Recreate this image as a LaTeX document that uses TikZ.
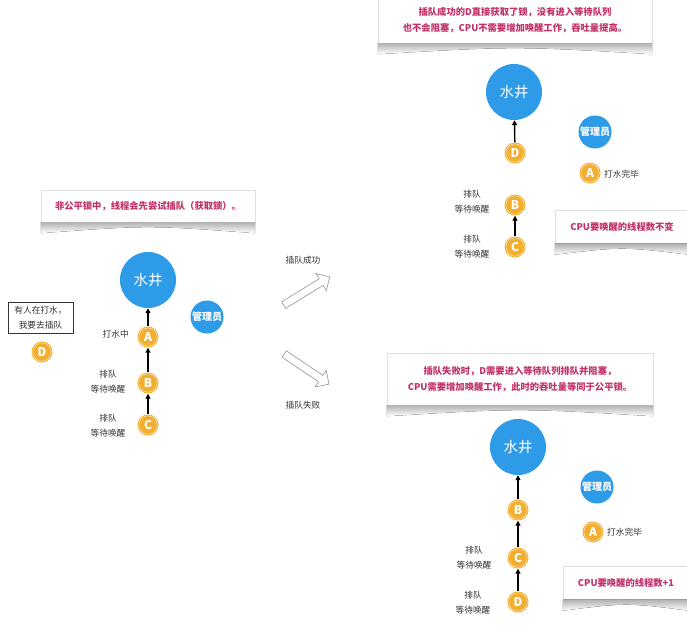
\documentclass[tikz,border=0pt]{standalone}
\usepackage{fontspec}
\setmainfont{Noto Sans CJK SC}
\usetikzlibrary{arrows.meta,shapes.arrows,calc}
\definecolor{wellblue}{HTML}{2E9BE8}
\definecolor{qorange}{HTML}{F2AE2E}
\definecolor{capred}{HTML}{C2306A}
\definecolor{lbl}{HTML}{333333}
\tikzset{
  well/.style={circle,fill=wellblue,text=white,minimum size=56pt,inner sep=0pt,font=\fontsize{14.5}{14}\selectfont},
  mgr/.style={circle,fill=wellblue,text=white,minimum size=33pt,inner sep=0pt,font=\bfseries\fontsize{10}{10}\selectfont},
  thr/.style={circle,fill=qorange,text=white,minimum size=21pt,inner sep=0pt,font=\bfseries\fontsize{12}{12}\selectfont,
    path picture={\draw[white!85!qorange,line width=0.4pt] (path picture bounding box.center) circle (9.2pt);}},
  lab/.style={text=lbl,align=center,font=\fontsize{8.7}{15}\selectfont,inner sep=0pt},
  capbox/.style={fill=white,draw=gray!25,text=capred,align=center,font=\bfseries\fontsize{9.3}{16}\selectfont,inner sep=0pt},
  flow/.style={line width=1.4pt,-{Triangle[length=5pt,width=5pt]}},
  bigarrow/.style={single arrow,draw=gray!75,fill=white,line width=0.7pt,minimum height=54pt,minimum width=20pt,inner sep=3.4pt,single arrow head extend=6pt},
  shadowfill/.style={top color=gray!60,bottom color=white}
}
\newcommand{\capshadow}[1]{%
  \fill[shadowfill] (#1.south west) -- ++(0,11) .. controls ($(#1.south)+(0,3)$) .. ($(#1.south east)+(0,11)$) -- (#1.south east) -- cycle;}
\begin{document}
\begin{tikzpicture}[x=1pt,y=-1pt]
\useasboundingbox (0,0) rectangle (687,624);
\fill[white] (0,0) rectangle (687,624);

% ---------- left panel ----------
\node[capbox,minimum width=214pt,minimum height=32pt] (capL) at (148,206) {非公平锁中，线程会先尝试插队（获取锁）。};
\capshadow{capL}
\node[well] (wellL) at (148,280) {水井};
\node[mgr] (mgrL) at (207,317) {管理员};
\node[thr] (AL) at (148,337) {A};
\node[thr] (BL) at (148,383) {B};
\node[thr] (CL) at (148,425) {C};
\node[thr] (DL) at (42,352) {D};
\node[draw=lbl,line width=0.8pt,text=lbl,align=center,font=\fontsize{8.7}{15}\selectfont,minimum width=65pt,minimum height=31pt,inner sep=0pt] (boxD) at (40.5,317.5) {有人在打水，\\我要去插队};
\node[lab,anchor=east] (lA) at (129,334) {打水中};
\node[lab] (lB) at (108,382) {排队\\等待唤醒};
\node[lab] (lC) at (108,426) {排队\\等待唤醒};
\draw[flow] (AL) -- (wellL);
\draw[flow] (BL) -- (AL);
\draw[flow] (CL) -- (BL);

% ---------- middle arrows ----------
\node[lab] (succ) at (303,260) {插队成功};
\node[bigarrow,rotate=31.5] (arrS) at (305,292) {};
\node[bigarrow,rotate=-34] (arrF) at (305,368) {};
\node[lab] (fail) at (303,405) {插队失败};

% ---------- top right panel ----------
\node[capbox,minimum width=274pt,minimum height=46pt] (capT) at (515,20) {插队成功的D直接获取了锁，没有进入等待队列\\也不会阻塞，CPU不需要增加唤醒工作，吞吐量提高。};
\capshadow{capT}
\node[well] (wellT) at (514,92) {水井};
\node[mgr] (mgrT) at (595,132) {管理员};
\node[thr] (DT) at (515,153) {D};
\node[thr] (AT) at (590,173) {A};
\node[lab,anchor=west] (lAT) at (604,174) {打水完毕};
\node[thr] (BT) at (515,205) {B};
\node[thr] (CT) at (515,247) {C};
\node[lab] (lBT) at (472,202) {排队\\等待唤醒};
\node[lab] (lCT) at (472,247) {排队\\等待唤醒};
\node[capbox,minimum width=134pt,minimum height=33pt] (cpuT) at (622,227) {CPU要唤醒的线程数不变};
\capshadow{cpuT}
\draw[flow] (DT) -- (wellT);
\draw[flow] (CT) -- (BT);

% ---------- bottom right panel ----------
\node[capbox,minimum width=266pt,minimum height=52pt] (capB) at (520,379) {插队失败时，D需要进入等待队列排队并阻塞，\\CPU需要增加唤醒工作，此时的吞吐量等同于公平锁。};
\capshadow{capB}
\node[well] (wellB) at (518,447) {水井};
\node[mgr] (mgrB) at (597,487) {管理员};
\node[thr] (BB) at (518,510) {B};
\node[thr] (AB) at (593,532) {A};
\node[lab,anchor=west] (lAB) at (607,532) {打水完毕};
\node[thr] (CB) at (518,558) {C};
\node[thr] (DB) at (518,602) {D};
\node[lab] (lCB) at (474,558) {排队\\等待唤醒};
\node[lab] (lDB) at (473,603) {排队\\等待唤醒};
\node[capbox,minimum width=126pt,minimum height=33pt] (cpuB) at (626,583) {CPU要唤醒的线程数+1};
\capshadow{cpuB}
\draw[flow] (BB) -- (wellB);
\draw[flow] (CB) -- (BB);
\draw[flow] (DB) -- (CB);
\end{tikzpicture}
\end{document}
